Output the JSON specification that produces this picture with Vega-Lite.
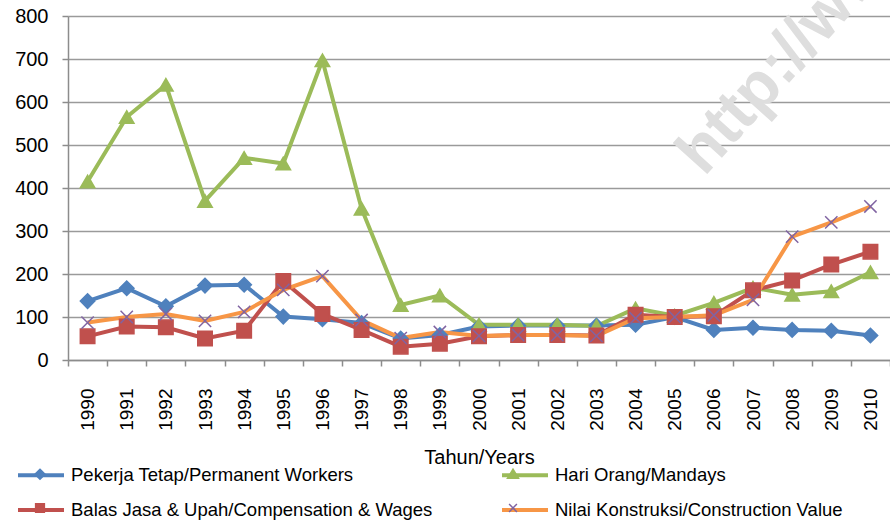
{
  "$schema": "https://vega.github.io/schema/vega-lite/v6.json",
  "autosize": "none",
  "width": 822,
  "height": 344,
  "padding": {"left": 68, "top": 16, "right": 0, "bottom": 160},
  "background": "white",
  "data": {"values": [
    {"year": 1990, "series": "Pekerja Tetap/Permanent Workers", "value": 137},
    {"year": 1991, "series": "Pekerja Tetap/Permanent Workers", "value": 167},
    {"year": 1992, "series": "Pekerja Tetap/Permanent Workers", "value": 125},
    {"year": 1993, "series": "Pekerja Tetap/Permanent Workers", "value": 173},
    {"year": 1994, "series": "Pekerja Tetap/Permanent Workers", "value": 175},
    {"year": 1995, "series": "Pekerja Tetap/Permanent Workers", "value": 101},
    {"year": 1996, "series": "Pekerja Tetap/Permanent Workers", "value": 95},
    {"year": 1997, "series": "Pekerja Tetap/Permanent Workers", "value": 86},
    {"year": 1998, "series": "Pekerja Tetap/Permanent Workers", "value": 50},
    {"year": 1999, "series": "Pekerja Tetap/Permanent Workers", "value": 58},
    {"year": 2000, "series": "Pekerja Tetap/Permanent Workers", "value": 78},
    {"year": 2001, "series": "Pekerja Tetap/Permanent Workers", "value": 80},
    {"year": 2002, "series": "Pekerja Tetap/Permanent Workers", "value": 80},
    {"year": 2003, "series": "Pekerja Tetap/Permanent Workers", "value": 80},
    {"year": 2004, "series": "Pekerja Tetap/Permanent Workers", "value": 82},
    {"year": 2005, "series": "Pekerja Tetap/Permanent Workers", "value": 100},
    {"year": 2006, "series": "Pekerja Tetap/Permanent Workers", "value": 70},
    {"year": 2007, "series": "Pekerja Tetap/Permanent Workers", "value": 75},
    {"year": 2008, "series": "Pekerja Tetap/Permanent Workers", "value": 70},
    {"year": 2009, "series": "Pekerja Tetap/Permanent Workers", "value": 68},
    {"year": 2010, "series": "Pekerja Tetap/Permanent Workers", "value": 57},
    {"year": 1990, "series": "Hari Orang/Mandays", "value": 415},
    {"year": 1991, "series": "Hari Orang/Mandays", "value": 565},
    {"year": 1992, "series": "Hari Orang/Mandays", "value": 640},
    {"year": 1993, "series": "Hari Orang/Mandays", "value": 370},
    {"year": 1994, "series": "Hari Orang/Mandays", "value": 470},
    {"year": 1995, "series": "Hari Orang/Mandays", "value": 457},
    {"year": 1996, "series": "Hari Orang/Mandays", "value": 697},
    {"year": 1997, "series": "Hari Orang/Mandays", "value": 352},
    {"year": 1998, "series": "Hari Orang/Mandays", "value": 128},
    {"year": 1999, "series": "Hari Orang/Mandays", "value": 150},
    {"year": 2000, "series": "Hari Orang/Mandays", "value": 82},
    {"year": 2001, "series": "Hari Orang/Mandays", "value": 82},
    {"year": 2002, "series": "Hari Orang/Mandays", "value": 82},
    {"year": 2003, "series": "Hari Orang/Mandays", "value": 79},
    {"year": 2004, "series": "Hari Orang/Mandays", "value": 120},
    {"year": 2005, "series": "Hari Orang/Mandays", "value": 103},
    {"year": 2006, "series": "Hari Orang/Mandays", "value": 133},
    {"year": 2007, "series": "Hari Orang/Mandays", "value": 168},
    {"year": 2008, "series": "Hari Orang/Mandays", "value": 152},
    {"year": 2009, "series": "Hari Orang/Mandays", "value": 160},
    {"year": 2010, "series": "Hari Orang/Mandays", "value": 204},
    {"year": 1990, "series": "Balas Jasa & Upah/Compensation & Wages", "value": 55},
    {"year": 1991, "series": "Balas Jasa & Upah/Compensation & Wages", "value": 78},
    {"year": 1992, "series": "Balas Jasa & Upah/Compensation & Wages", "value": 76},
    {"year": 1993, "series": "Balas Jasa & Upah/Compensation & Wages", "value": 50},
    {"year": 1994, "series": "Balas Jasa & Upah/Compensation & Wages", "value": 68},
    {"year": 1995, "series": "Balas Jasa & Upah/Compensation & Wages", "value": 184},
    {"year": 1996, "series": "Balas Jasa & Upah/Compensation & Wages", "value": 107},
    {"year": 1997, "series": "Balas Jasa & Upah/Compensation & Wages", "value": 70},
    {"year": 1998, "series": "Balas Jasa & Upah/Compensation & Wages", "value": 31},
    {"year": 1999, "series": "Balas Jasa & Upah/Compensation & Wages", "value": 38},
    {"year": 2000, "series": "Balas Jasa & Upah/Compensation & Wages", "value": 55},
    {"year": 2001, "series": "Balas Jasa & Upah/Compensation & Wages", "value": 58},
    {"year": 2002, "series": "Balas Jasa & Upah/Compensation & Wages", "value": 58},
    {"year": 2003, "series": "Balas Jasa & Upah/Compensation & Wages", "value": 57},
    {"year": 2004, "series": "Balas Jasa & Upah/Compensation & Wages", "value": 105},
    {"year": 2005, "series": "Balas Jasa & Upah/Compensation & Wages", "value": 100},
    {"year": 2006, "series": "Balas Jasa & Upah/Compensation & Wages", "value": 102},
    {"year": 2007, "series": "Balas Jasa & Upah/Compensation & Wages", "value": 162},
    {"year": 2008, "series": "Balas Jasa & Upah/Compensation & Wages", "value": 185},
    {"year": 2009, "series": "Balas Jasa & Upah/Compensation & Wages", "value": 222},
    {"year": 2010, "series": "Balas Jasa & Upah/Compensation & Wages", "value": 252},
    {"year": 1990, "series": "Nilai Konstruksi/Construction Value", "value": 87},
    {"year": 1991, "series": "Nilai Konstruksi/Construction Value", "value": 100},
    {"year": 1992, "series": "Nilai Konstruksi/Construction Value", "value": 107},
    {"year": 1993, "series": "Nilai Konstruksi/Construction Value", "value": 91},
    {"year": 1994, "series": "Nilai Konstruksi/Construction Value", "value": 112},
    {"year": 1995, "series": "Nilai Konstruksi/Construction Value", "value": 163},
    {"year": 1996, "series": "Nilai Konstruksi/Construction Value", "value": 195},
    {"year": 1997, "series": "Nilai Konstruksi/Construction Value", "value": 93},
    {"year": 1998, "series": "Nilai Konstruksi/Construction Value", "value": 51},
    {"year": 1999, "series": "Nilai Konstruksi/Construction Value", "value": 65},
    {"year": 2000, "series": "Nilai Konstruksi/Construction Value", "value": 56},
    {"year": 2001, "series": "Nilai Konstruksi/Construction Value", "value": 58},
    {"year": 2002, "series": "Nilai Konstruksi/Construction Value", "value": 58},
    {"year": 2003, "series": "Nilai Konstruksi/Construction Value", "value": 56},
    {"year": 2004, "series": "Nilai Konstruksi/Construction Value", "value": 97},
    {"year": 2005, "series": "Nilai Konstruksi/Construction Value", "value": 100},
    {"year": 2006, "series": "Nilai Konstruksi/Construction Value", "value": 104},
    {"year": 2007, "series": "Nilai Konstruksi/Construction Value", "value": 140},
    {"year": 2008, "series": "Nilai Konstruksi/Construction Value", "value": 287},
    {"year": 2009, "series": "Nilai Konstruksi/Construction Value", "value": 320},
    {"year": 2010, "series": "Nilai Konstruksi/Construction Value", "value": 357}
  ]},
  "encoding": {
    "x": {
      "field": "year", "type": "ordinal",
      "scale": {"type": "band", "paddingInner": 0, "paddingOuter": 0,
        "domain": [1990,1991,1992,1993,1994,1995,1996,1997,1998,1999,2000,2001,2002,2003,2004,2005,2006,2007,2008,2009,2010]},
      "axis": {
        "title": "Tahun/Years",
        "tickBand": "extent",
        "labelAngle": -90,
        "labelFont": "Liberation Sans", "labelFontSize": 19, "labelColor": "#000",
        "labelPadding": 22,
        "tickSize": 6, "tickColor": "#8c8c8c", "tickWidth": 1.5,
        "domainColor": "#8c8c8c", "domainWidth": 1.5,
        "grid": false,
        "titleFont": "Liberation Sans", "titleFontSize": 20, "titleFontWeight": "normal", "titleColor": "#000",
        "titlePadding": 17
      }
    },
    "y": {
      "field": "value", "type": "quantitative",
      "scale": {"domain": [0, 800], "nice": false},
      "axis": {
        "title": null,
        "values": [0,100,200,300,400,500,600,700,800],
        "labelFont": "Liberation Sans", "labelFontSize": 20, "labelColor": "#000",
        "labelPadding": 14,
        "tickSize": 6, "tickColor": "#8c8c8c", "tickWidth": 1.5,
        "domainColor": "#8c8c8c", "domainWidth": 1.5,
        "grid": true, "gridColor": "#9a9a9a", "gridWidth": 1.3
      }
    }
  },
  "layer": [
    {
      "transform": [{"filter": "datum.year == 2006 && datum.series == 'Pekerja Tetap/Permanent Workers'"}],
      "mark": {"type": "text", "font": "Liberation Sans", "fontSize": 64, "fontWeight": "bold", "angle": 312, "align": "left", "baseline": "bottom", "fill": "#dedede", "opacity": 1},
      "encoding": {
        "y": {"datum": 405},
        "text": {"value": "http://www.bps.go.id"}
      }
    },
    {
      "mark": {"type": "line", "strokeWidth": 4},
      "encoding": {
        "stroke": {
          "field": "series", "type": "nominal",
          "scale": {
            "domain": ["Pekerja Tetap/Permanent Workers", "Balas Jasa & Upah/Compensation & Wages", "Hari Orang/Mandays", "Nilai Konstruksi/Construction Value"],
            "range": ["#4F81BD", "#C0504D", "#9BBB59", "#F79646"]
          },
          "legend": {
            "title": null, "orient": "none", "legendX": -52, "legendY": 434,
            "columns": 2, "columnPadding": 61, "rowPadding": 0,
            "labelFont": "Liberation Sans", "labelFontSize": 18.5, "labelColor": "#000", "labelLimit": 1000,
            "labelOffset": 5, "symbolSize": 2116, "symbolStrokeWidth": 4, "symbolType": "stroke", "padding": 0
          }
        }
      }
    },
    {
      "mark": {"type": "point", "opacity": 1, "size": 210, "strokeWidth": 1.5},
      "encoding": {
        "color": {
          "field": "series", "type": "nominal",
          "sort": ["Pekerja Tetap/Permanent Workers", "Balas Jasa & Upah/Compensation & Wages", "Hari Orang/Mandays", "Nilai Konstruksi/Construction Value"],
          "scale": {"range": ["#4F81BD", "#C0504D", "#9BBB59", "#8064A2"]},
          "legend": {
            "title": null, "orient": "none", "legendX": -52, "legendY": 434,
            "columns": 2, "columnPadding": 420, "rowPadding": 0,
            "labelFont": "Liberation Sans", "labelFontSize": 18.5, "labelOpacity": 0, "labelLimit": 1000,
            "labelExpr": "' '",
            "labelOffset": 5, "symbolSize": 2116, "symbolStrokeWidth": 1.5, "padding": 0, "symbolOpacity": 1,
            "symbolType": {"expr": "datum.value === 'Pekerja Tetap/Permanent Workers' ? 'M0,-0.22L0.22,0L0,0.22L-0.22,0Z' : datum.value === 'Hari Orang/Mandays' ? 'M0,-0.22L0.24,0.17L-0.24,0.17Z' : datum.value === 'Balas Jasa & Upah/Compensation & Wages' ? 'M-0.19,-0.19H0.19V0.19H-0.19Z' : 'M-0.17,-0.17L0.17,0.17M-0.17,0.17L0.17,-0.17'"},
            "symbolFillColor": {"expr": "datum.value === 'Pekerja Tetap/Permanent Workers' ? '#4F81BD' : datum.value === 'Hari Orang/Mandays' ? '#9BBB59' : datum.value === 'Balas Jasa & Upah/Compensation & Wages' ? '#C0504D' : 'transparent'"}
          }
        },
        "fill": {
          "field": "series", "type": "nominal",
          "sort": ["Pekerja Tetap/Permanent Workers", "Balas Jasa & Upah/Compensation & Wages", "Hari Orang/Mandays", "Nilai Konstruksi/Construction Value"],
          "scale": {"range": ["#4F81BD", "#C0504D", "#9BBB59", "transparent"]},
          "legend": null
        },
        "shape": {
          "field": "series", "type": "nominal",
          "sort": ["Pekerja Tetap/Permanent Workers", "Balas Jasa & Upah/Compensation & Wages", "Hari Orang/Mandays", "Nilai Konstruksi/Construction Value"],
          "scale": {"range": ["diamond", "square", "triangle-up", "M-0.85,-0.85L0.85,0.85M-0.85,0.85L0.85,-0.85"]},
          "legend": null
        }
      }
    }
  ],
  "config": {
    "view": {"stroke": null},
    "font": "Liberation Sans"
  }
}
